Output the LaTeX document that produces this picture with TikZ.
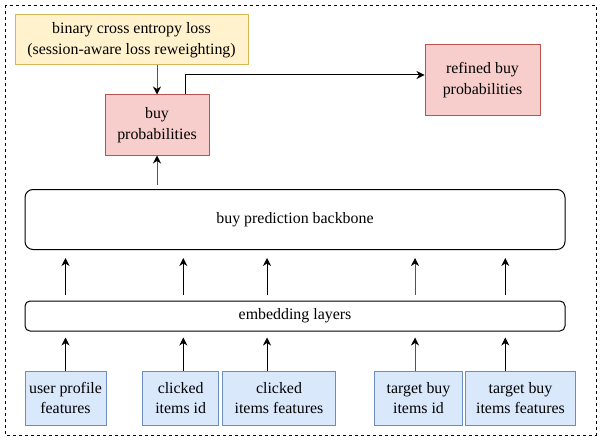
\documentclass[tikz,border=0pt]{standalone}
\usepackage{fontspec}
\setmainfont{Liberation Serif}
\usepackage{xcolor}
\usetikzlibrary{arrows.meta}

\definecolor{lossfill}{HTML}{FFF2CC}
\definecolor{lossdraw}{HTML}{D6B656}
\definecolor{probfill}{HTML}{F8CECC}
\definecolor{probdraw}{HTML}{B85450}
\definecolor{featfill}{HTML}{DAE8FC}
\definecolor{featdraw}{HTML}{6C8EBF}
\definecolor{greyline}{HTML}{555555}

\tikzset{
  box/.style={draw, line width=1pt, align=center, inner sep=0pt,
    font=\rmfamily\fontsize{15.9}{20.6}\selectfont},
  lossbox/.style={box, fill=lossfill, draw=lossdraw},
  probbox/.style={box, fill=probfill, draw=probdraw},
  featbox/.style={box, fill=featfill, draw=featdraw,
    minimum height=54pt},
  layerbox/.style={box, draw=black, minimum width=540pt},
  arr/.style={-{Stealth[length=8pt,width=8pt,inset=2.5pt,color=black]}, line width=1pt},
  greyarr/.style={arr, draw=greyline},
}

\begin{document}
\begin{tikzpicture}[x=1pt, y=-1pt]
  \useasboundingbox (0,0) rectangle (601,441);
  \draw[dashed, line width=0.8pt] (5,5) rectangle (596,435);

  % top part
  \node[lossbox, minimum width=233pt, minimum height=50pt] (loss) at (131.5,40)
    {binary cross entropy loss\\(session-aware loss reweighting)};
  \node[probbox, minimum width=104pt, minimum height=60pt] (buy) at (157,125)
    {buy\\probabilities};
  \node[probbox, minimum width=115pt, minimum height=70pt] (refined) at (482.5,80)
    {refined buy\\probabilities};

  % layers
  \node[layerbox, rounded corners=8pt, minimum height=60pt] (backbone) at (295,219.5)
    {buy prediction backbone};
  \node[layerbox, rounded corners=5pt, minimum height=30pt] (embed) at (295,316)
    {embedding layers};

  % input features
  \node[featbox, minimum width=81pt] (user) at (65.5,398)
    {user profile\\features};
  \node[featbox, minimum width=76pt] (clickid) at (180.7,398)
    {clicked\\items id};
  \node[featbox, minimum width=113.4pt] (clickfeat) at (279,398)
    {clicked\\items features};
  \node[featbox, minimum width=87.6pt] (targetid) at (418.5,398)
    {target buy\\items id};
  \node[featbox, minimum width=109.6pt] (targetfeat) at (520.5,398)
    {target buy\\items features};

  % connectors
  \draw[greyarr] (loss.south -| buy.north) -- (buy.north);
  \draw[greyarr, shorten <=4pt] (backbone.north -| buy.south) -- (buy.south);
  \draw[arr] (buy.north -| 185.3,0) |- ([yshift=5pt]refined.west);

  \draw[arr, shorten >=6pt] (user.north -| 65.5,0) -- (embed.south -| 65.5,0);
  \draw[arr, shorten >=6pt] (clickid.north -| 183.3,0) -- (embed.south -| 183.3,0);
  \draw[arr, shorten >=6pt] (clickfeat.north -| 267,0) -- (embed.south -| 267,0);
  \draw[greyarr, shorten >=6pt] (targetid.north -| 415,0) -- (embed.south -| 415,0);
  \draw[arr, shorten >=6pt] (targetfeat.north -| 505.3,0) -- (embed.south -| 505.3,0);

  \draw[arr, shorten <=6pt, shorten >=8pt] (embed.north -| 65.5,0) -- (backbone.south -| 65.5,0);
  \draw[arr, shorten <=6pt, shorten >=8pt] (embed.north -| 183.3,0) -- (backbone.south -| 183.3,0);
  \draw[arr, shorten <=6pt, shorten >=8pt] (embed.north -| 267,0) -- (backbone.south -| 267,0);
  \draw[greyarr, shorten <=6pt, shorten >=8pt] (embed.north -| 415,0) -- (backbone.south -| 415,0);
  \draw[arr, shorten <=6pt, shorten >=8pt] (embed.north -| 505.3,0) -- (backbone.south -| 505.3,0);
\end{tikzpicture}
\end{document}
